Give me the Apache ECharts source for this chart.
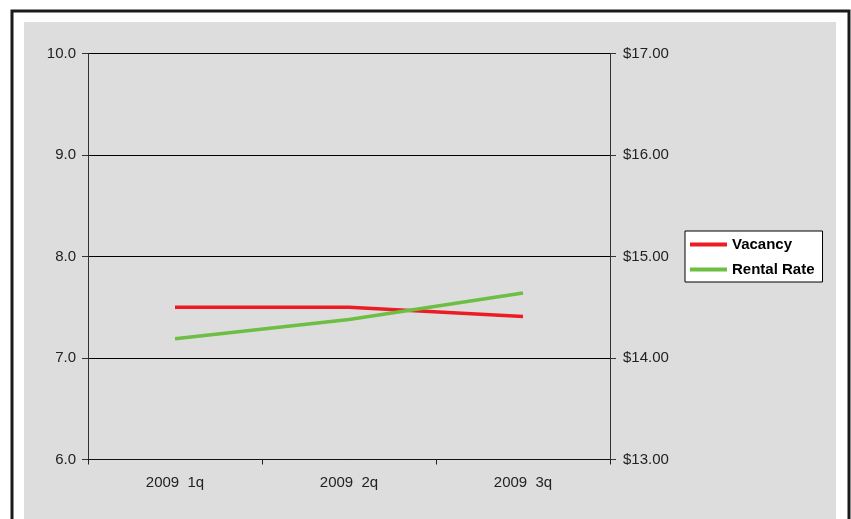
<!DOCTYPE html>
<html>
<head>
<meta charset="utf-8">
<script src="https://cdn.jsdelivr.net/npm/echarts@6/dist/echarts.min.js"></script>
<style>html,body{margin:0;padding:0;background:#fff}#c{width:851px;height:519px}</style>
</head>
<body>
<div id="c"></div>
<script>
var categories = ['2009  1q', '2009  2q', '2009  3q'];
var vacancy = [7.5, 7.5, 7.41];
var rentalRate = [14.19, 14.38, 14.64];
var leftTicks = [6, 10, 1];
var rightTicks = [13, 17, 1];

var chart = echarts.init(document.getElementById('c'), null, {renderer: 'canvas'});
var font = 'Liberation Sans, Arial, sans-serif';
chart.setOption({
  backgroundColor: '#ffffff',
  animation: false,
  graphic: [
    {type: 'rect', z: -10, shape: {x: 12, y: 11, width: 837, height: 530}, style: {fill: '#ffffff', stroke: '#1a1a1a', lineWidth: 3}},
    {type: 'rect', z: -9, shape: {x: 24, y: 22, width: 812, height: 510}, style: {fill: '#dddddd'}}
  ],
  grid: {left: 88, right: 241, top: 53.5, bottom: 59.5, containLabel: false},
  legend: {
    left: 685, top: 231, orient: 'vertical',
    backgroundColor: '#ffffff', borderColor: '#000000', borderWidth: 1,
    padding: [6, 8, 5, 5], itemGap: 10, itemWidth: 37, itemHeight: 4, icon: 'rect',
    textStyle: {fontFamily: font, fontSize: 15, fontWeight: 'bold', color: '#000'},
    data: ['Vacancy', 'Rental Rate']
  },
  xAxis: {
    type: 'category', data: categories, boundaryGap: true,
    axisLine: {lineStyle: {color: '#111', width: 1}},
    axisTick: {show: true, length: 5, inside: false, lineStyle: {color: '#222'}},
    axisLabel: {margin: 16, fontFamily: font, fontSize: 15, color: '#222'}
  },
  yAxis: [
    {
      type: 'value', min: leftTicks[0], max: leftTicks[1], interval: leftTicks[2], position: 'left',
      axisLine: {show: true, lineStyle: {color: '#333', width: 1}},
      axisTick: {show: true, length: 6, lineStyle: {color: '#333'}},
      splitLine: {show: true, lineStyle: {color: '#000', width: 1}},
      axisLabel: {margin: 12, fontFamily: font, fontSize: 15, color: '#222', formatter: function (v) { return v.toFixed(1); }}
    },
    {
      type: 'value', min: rightTicks[0], max: rightTicks[1], interval: rightTicks[2], position: 'right',
      axisLine: {show: true, lineStyle: {color: '#333', width: 1}},
      axisTick: {show: true, length: 6, lineStyle: {color: '#333'}},
      splitLine: {show: false},
      axisLabel: {margin: 13, fontFamily: font, fontSize: 15, color: '#222', formatter: function (v) { return '$' + v.toFixed(2); }}
    }
  ],
  series: [
    {name: 'Vacancy', type: 'line', yAxisIndex: 0, data: vacancy, symbol: 'none', color: '#ed1c24', lineStyle: {width: 3.5, color: '#ed1c24'}},
    {name: 'Rental Rate', type: 'line', yAxisIndex: 1, data: rentalRate, symbol: 'none', color: '#6cbf42', lineStyle: {width: 3.5, color: '#6cbf42'}}
  ]
});
</script>
</body>
</html>
